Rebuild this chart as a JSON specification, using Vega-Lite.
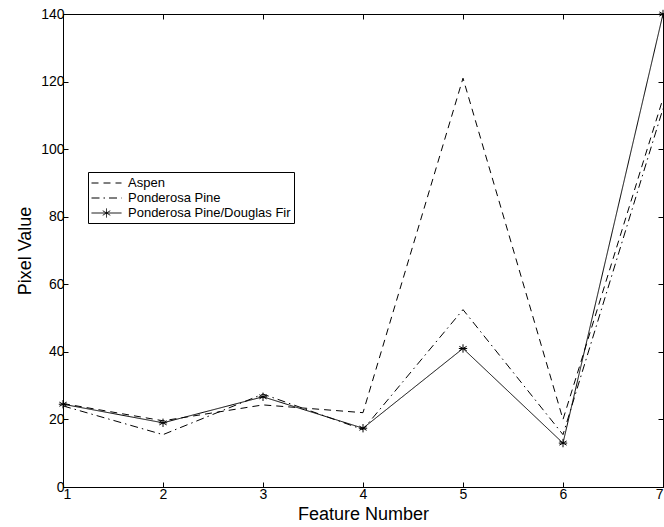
{
  "$schema": "https://vega.github.io/schema/vega-lite/v6.json",
  "width": 600,
  "height": 473,
  "autosize": {"type": "none"},
  "padding": {"left": 63, "top": 14, "right": 1, "bottom": 40},
  "background": "white",
  "config": {
    "view": {"stroke": "black", "strokeWidth": 1},
    "font": "Liberation Sans",
    "axis": {
      "domainColor": "black", "tickColor": "black", "labelColor": "black", "titleColor": "black",
      "grid": false, "labelFontSize": 14, "titleFontSize": 18, "titleFontWeight": "normal",
      "tickSize": -5, "labelPadding": 4
    }
  },
  "data": {"values": [
    {"f": 1, "v": 24.7, "s": "Aspen"},
    {"f": 2, "v": 19.6, "s": "Aspen"},
    {"f": 3, "v": 24.3, "s": "Aspen"},
    {"f": 4, "v": 22.0, "s": "Aspen"},
    {"f": 5, "v": 121.0, "s": "Aspen"},
    {"f": 6, "v": 20.0, "s": "Aspen"},
    {"f": 7, "v": 115.0, "s": "Aspen"},
    {"f": 1, "v": 24.0, "s": "Ponderosa Pine"},
    {"f": 2, "v": 15.5, "s": "Ponderosa Pine"},
    {"f": 3, "v": 27.5, "s": "Ponderosa Pine"},
    {"f": 4, "v": 17.0, "s": "Ponderosa Pine"},
    {"f": 5, "v": 52.5, "s": "Ponderosa Pine"},
    {"f": 6, "v": 15.5, "s": "Ponderosa Pine"},
    {"f": 7, "v": 112.0, "s": "Ponderosa Pine"},
    {"f": 1, "v": 24.5, "s": "Ponderosa Pine/Douglas Fir"},
    {"f": 2, "v": 19.0, "s": "Ponderosa Pine/Douglas Fir"},
    {"f": 3, "v": 26.7, "s": "Ponderosa Pine/Douglas Fir"},
    {"f": 4, "v": 17.4, "s": "Ponderosa Pine/Douglas Fir"},
    {"f": 5, "v": 41.0, "s": "Ponderosa Pine/Douglas Fir"},
    {"f": 6, "v": 13.0, "s": "Ponderosa Pine/Douglas Fir"},
    {"f": 7, "v": 140.0, "s": "Ponderosa Pine/Douglas Fir"}
  ]},
  "resolve": {"axis": {"x": "independent", "y": "independent"}},
  "layer": [
    {
      "mark": {"type": "line", "color": "black", "strokeWidth": 1},
      "encoding": {
        "x": {"field": "f", "type": "quantitative", "scale": {"domain": [1, 7], "nice": false},
              "axis": {"values": [1, 2, 3, 4, 5, 6, 7], "title": "Feature Number", "titlePadding": 4, "format": "d", "labelPadding": 5}},
        "y": {"field": "v", "type": "quantitative", "scale": {"domain": [0, 140], "nice": false},
              "axis": {"values": [0, 20, 40, 60, 80, 100, 120, 140], "title": "Pixel Value", "titlePadding": 6}},
        "strokeDash": {
          "field": "s", "type": "nominal",
          "scale": {"domain": ["Aspen", "Ponderosa Pine", "Ponderosa Pine/Douglas Fir"],
                    "range": [[7, 5], [8, 4, 1.5, 4], [1, 0]]},
          "legend": {
            "title": null, "orient": "none", "legendX": 25, "legendY": 158,
            "symbolType": "M-1,0L3,0", "symbolSize": 225, "symbolStrokeColor": "black", "symbolStrokeWidth": 1,
            "labelFontSize": 13, "labelColor": "black", "rowPadding": 0, "labelOffset": 21, "labelLimit": 0,
            "strokeColor": "black", "fillColor": "white", "padding": 3,
            "encode": {"symbols": {"update": {
              "shape": [
                {"test": "datum.label === 'Ponderosa Pine/Douglas Fir'", "value": "M-1,0L3,0M1,-0.6L1,0.6M0.5,-0.3L1.5,0.3M0.5,0.3L1.5,-0.3"},
                {"value": "M-1,0L3,0"}
              ]
            }}}
          }
        }
      }
    },
    {
      "transform": [{"filter": "datum.s === 'Ponderosa Pine/Douglas Fir'"}],
      "mark": {"type": "point", "color": "black", "filled": false, "strokeWidth": 1, "size": 70,
               "shape": "M0,-1L0,1M-0.87,-0.5L0.87,0.5M-0.87,0.5L0.87,-0.5M-1,0L1,0", "opacity": 1},
      "encoding": {
        "x": {"field": "f", "type": "quantitative", "scale": {"domain": [1, 7], "nice": false},
              "axis": {"orient": "top", "values": [1, 2, 3, 4, 5, 6, 7], "labels": false, "title": null, "domain": false}},
        "y": {"field": "v", "type": "quantitative", "scale": {"domain": [0, 140], "nice": false},
              "axis": {"orient": "right", "values": [0, 20, 40, 60, 80, 100, 120, 140], "labels": false, "title": null, "domain": false}}
      }
    }
  ]
}
